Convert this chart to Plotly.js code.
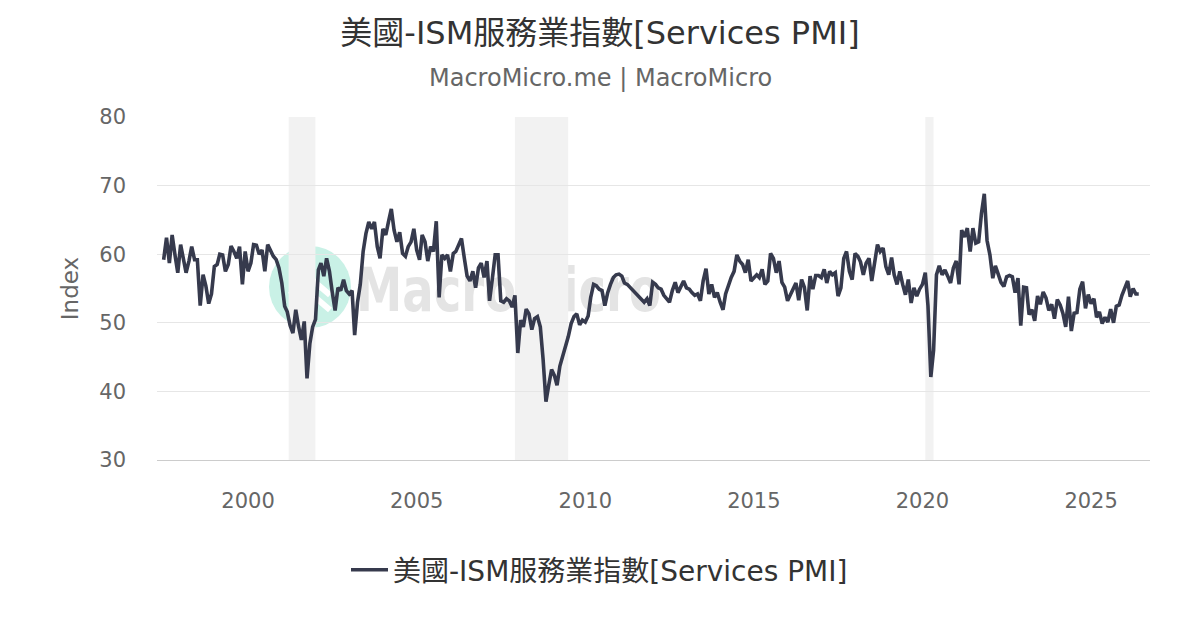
<!DOCTYPE html>
<html>
<head>
<meta charset="utf-8">
<script src="https://cdn.plot.ly/plotly-3.0.1.min.js"></script>
<style>
  html, body { margin: 0; padding: 0; background: #ffffff; }
  #chart { width: 1200px; height: 630px; }
</style>
</head>
<body>
<div id="chart"></div>
<script>
// ---- Data (monthly ISM Services PMI) ----
const seriesName = '美國-ISM服務業指數[Services PMI]';
const pmi1997 = [59.2, 62.4, 58.7, 62.8, 59.9, 57.3];            // Jul-Dec
const pmi1998 = [61.4, 59.2, 57.3, 59.0, 61.1, 59.2, 59.2, 52.5, 57.0, 55.4, 52.8, 54.2];
const pmi1999 = [58.2, 58.5, 60.0, 59.9, 57.5, 58.5, 61.2, 60.4, 59.4, 61.1, 55.6, 60.4];
const pmi2000 = [57.5, 58.7, 61.4, 61.3, 60.0, 60.6, 57.5, 61.4, 60.6, 59.7, 59.2, 58.0];
const pmi2001 = [55.8, 52.4, 51.6, 49.6, 48.5, 51.9, 49.5, 47.5, 50.2, 41.9, 47.0, 49.4];
const pmi2002 = [50.5, 57.7, 58.7, 56.8, 59.4, 57.5, 54.5, 51.8, 55.1, 54.7, 56.3, 54.7];
const pmi2003 = [54.2, 54.7, 48.2, 53.0, 55.6, 60.4, 63.0, 64.7, 63.7, 64.7, 61.1, 59.4];
const pmi2004 = [63.7, 62.8, 64.7, 66.6, 63.5, 61.8, 63.2, 60.1, 59.7, 61.1, 61.8, 63.7];
const pmi2005 = [60.6, 59.2, 62.8, 61.8, 59.0, 61.1, 60.4, 64.8, 53.7, 59.9, 59.4, 59.9];
const pmi2006 = [57.5, 60.1, 60.4, 61.3, 62.3, 59.4, 56.8, 56.1, 57.5, 55.1, 58.0, 58.7];
const pmi2007 = [56.6, 59.0, 53.2, 56.5, 59.9, 59.9, 53.2, 53.0, 53.5, 53.2, 52.3, 54.0];
const pmi2008 = [45.6, 50.4, 49.4, 52.0, 51.3, 49.0, 50.6, 50.9, 49.4, 44.7, 38.5, 40.9];
const pmi2009 = [43.2, 42.3, 40.9, 43.7, 45.1, 47.0, 48.0, 49.9, 50.9, 51.3, 49.7, 50.4];
const pmi2010 = [50.1, 51.0, 53.7, 55.6, 55.4, 54.9, 54.7, 52.5, 54.4, 55.6, 56.6, 57.0];
const pmi2011 = [57.1, 56.8, 55.8, 55.6, 55.2, 54.8, 54.3, 54.0, 53.5, 53.0, 53.5, 52.5];
const pmi2012 = [55.9, 55.6, 55.1, 54.9, 54.0, 53.5, 53.0, 54.7, 55.9, 54.4, 55.4, 56.1];
const pmi2013 = [55.1, 54.9, 54.4, 54.0, 54.2, 53.2, 56.1, 57.9, 54.2, 55.6, 53.7, 54.4];
const pmi2014 = [53.0, 51.9, 54.2, 55.6, 56.6, 57.5, 59.9, 59.0, 58.5, 57.3, 59.2, 56.1];
const pmi2015 = [56.6, 57.0, 56.6, 57.8, 55.6, 56.1, 60.1, 59.4, 57.3, 59.0, 55.9, 55.2];
const pmi2016 = [53.2, 54.0, 54.8, 55.8, 53.3, 56.3, 55.2, 51.8, 56.8, 54.9, 56.9, 56.9];
const pmi2017 = [56.6, 57.8, 55.8, 57.5, 57.0, 57.3, 53.9, 55.1, 59.4, 60.4, 57.5, 56.3];
const pmi2018 = [60.1, 59.7, 58.9, 57.0, 58.7, 59.4, 56.1, 58.9, 61.4, 60.4, 60.9, 58.2];
const pmi2019 = [57.0, 59.5, 57.0, 55.6, 57.5, 55.6, 54.1, 56.3, 52.9, 55.1, 53.9, 54.9];
const pmi2020 = [55.6, 57.3, 52.5, 42.1, 46.0, 57.0, 58.3, 57.0, 57.7, 56.8, 55.8, 58.0];
const pmi2021 = [59.0, 55.6, 63.5, 62.5, 63.8, 60.4, 63.8, 61.6, 61.8, 65.9, 68.8, 62.0];
const pmi2022 = [59.9, 56.5, 58.3, 57.1, 55.9, 55.3, 56.7, 56.9, 56.7, 54.4, 56.5, 49.6];
const pmi2023 = [55.2, 55.1, 51.2, 51.9, 50.3, 53.9, 52.7, 54.5, 53.6, 51.8, 52.7, 50.6];
const pmi2024 = [53.4, 52.6, 51.4, 49.4, 53.8, 48.8, 51.4, 51.5, 54.9, 56.0, 52.1, 54.1];
const pmi2025 = [52.8, 53.5, 50.8, 51.6, 49.9, 50.8, 50.1, 52.0, 50.0, 52.4, 52.6, 54.0];
const pmi2026 = [55.0, 56.1, 53.8, 55.0, 54.2, 54.2];            // Jan-Jun

// year, first month, values
const yearBlocks = [
  [1997, 7, pmi1997], [1998, 1, pmi1998], [1999, 1, pmi1999], [2000, 1, pmi2000],
  [2001, 1, pmi2001], [2002, 1, pmi2002], [2003, 1, pmi2003], [2004, 1, pmi2004],
  [2005, 1, pmi2005], [2006, 1, pmi2006], [2007, 1, pmi2007], [2008, 1, pmi2008],
  [2009, 1, pmi2009], [2010, 1, pmi2010], [2011, 1, pmi2011], [2012, 1, pmi2012],
  [2013, 1, pmi2013], [2014, 1, pmi2014], [2015, 1, pmi2015], [2016, 1, pmi2016],
  [2017, 1, pmi2017], [2018, 1, pmi2018], [2019, 1, pmi2019], [2020, 1, pmi2020],
  [2021, 1, pmi2021], [2022, 1, pmi2022], [2023, 1, pmi2023], [2024, 1, pmi2024],
  [2025, 1, pmi2025], [2026, 1, pmi2026]
];

// US recessions (shaded bands)
const recessionStarts = ['2001-03-16', '2007-12-01', '2020-02-01'];
const recessionEnds   = ['2001-12-31', '2009-06-30', '2020-04-30'];

const yTicks = [30, 40, 50, 60, 70, 80];
const xTickYears = [2000, 2005, 2010, 2015, 2020, 2025];

// ---- Build arrays ----
const dates = [];
const values = [];
yearBlocks.forEach(([yr, m0, arr]) => {
  arr.forEach((v, i) => {
    const m = m0 + i;
    dates.push(yr + '-' + String(m).padStart(2, '0') + '-01');
    values.push(v);
  });
});

const latin = 'DejaVu Sans, "Noto Sans CJK TC", sans-serif';

const trace = {
  x: dates,
  y: values,
  type: 'scatter',
  mode: 'lines',
  name: seriesName,
  line: { color: '#363a4d', width: 3.6 },
  hoverinfo: 'x+y'
};

const shapes = recessionStarts.map((s, i) => ({
  type: 'rect', xref: 'x', yref: 'paper',
  x0: s, x1: recessionEnds[i], y0: 0, y1: 1,
  fillcolor: '#f2f2f2', line: { width: 0 }, layer: 'below'
}));

// watermark logo (svg image, drawn under the line)
const wmSvg =
  '<svg xmlns="http://www.w3.org/2000/svg" width="420" height="85" viewBox="0 0 420 85">' +
  '<circle cx="42" cy="42" r="41" fill="#c9f1e6"/>' +
  '<polyline points="22,50 42,33 62,50" fill="none" stroke="#ffffff" stroke-width="6"/>' +
  '<polyline points="22,65 42,48 62,65" fill="none" stroke="#ffffff" stroke-width="6"/>' +
  '<text x="88" y="66" font-family="DejaVu Sans" font-weight="bold" font-size="60" fill="#e4e4e4" ' +
  'textLength="305" lengthAdjust="spacingAndGlyphs">MacroMicro</text>' +
  '</svg>';
const wmUri = 'data:image/svg+xml;charset=utf-8,' + encodeURIComponent(wmSvg);

const layout = {
  width: 1200,
  height: 630,
  paper_bgcolor: '#ffffff',
  plot_bgcolor: '#ffffff',
  margin: { l: 157, r: 50, t: 117, b: 170, autoexpand: false },
  title: {
    text: seriesName,
    font: { family: latin, size: 32, color: '#333333' },
    x: 0.5, xanchor: 'center', xref: 'container',
    y: 1 - 33 / 630, yanchor: 'middle', yref: 'container'
  },
  annotations: [{
    text: 'MacroMicro.me | MacroMicro',
    xref: 'paper', yref: 'paper',
    x: (600 - 157) / 993, y: (460 - 78) / 343,
    xanchor: 'center', yanchor: 'middle',
    showarrow: false,
    font: { family: latin, size: 24, color: '#666666' }
  }],
  xaxis: {
    type: 'date',
    range: ['1997-04-20', '2026-10-01'],
    tickvals: xTickYears.map(y => y + '-01-01'),
    ticktext: xTickYears.map(String),
    showgrid: false,
    zeroline: false,
    showline: true,
    linecolor: '#cccccc',
    linewidth: 1,
    ticks: '',
    ticklabelstandoff: 22,
    tickfont: { family: latin, size: 21, color: '#666666' }
  },
  yaxis: {
    range: [30, 80],
    tickvals: yTicks,
    showgrid: true,
    gridcolor: '#e6e6e6',
    gridwidth: 1,
    zeroline: false,
    showline: false,
    ticks: '',
    ticklabelstandoff: 30,
    tickfont: { family: latin, size: 21, color: '#666666' },
    title: { text: 'Index', font: { family: latin, size: 23, color: '#666666' }, standoff: 14 }
  },
  showlegend: true,
  legend: {
    orientation: 'h',
    x: (346 - 157) / 993, xanchor: 'left',
    y: (460 - 570) / 343, yanchor: 'middle',
    itemwidth: 37,
    font: { family: latin, size: 28, color: '#333333' },
    bgcolor: 'rgba(0,0,0,0)'
  },
  shapes: shapes,
  images: [{
    source: wmUri,
    xref: 'paper', yref: 'paper',
    x: (268 - 157) / 993, y: (460 - 245) / 343,
    sizex: 420 / 993, sizey: 85 / 343,
    xanchor: 'left', yanchor: 'top',
    sizing: 'stretch',
    layer: 'below'
  }],
  hovermode: 'x'
};

Plotly.newPlot('chart', [trace], layout, { displayModeBar: false, staticPlot: true });
</script>
</body>
</html>
